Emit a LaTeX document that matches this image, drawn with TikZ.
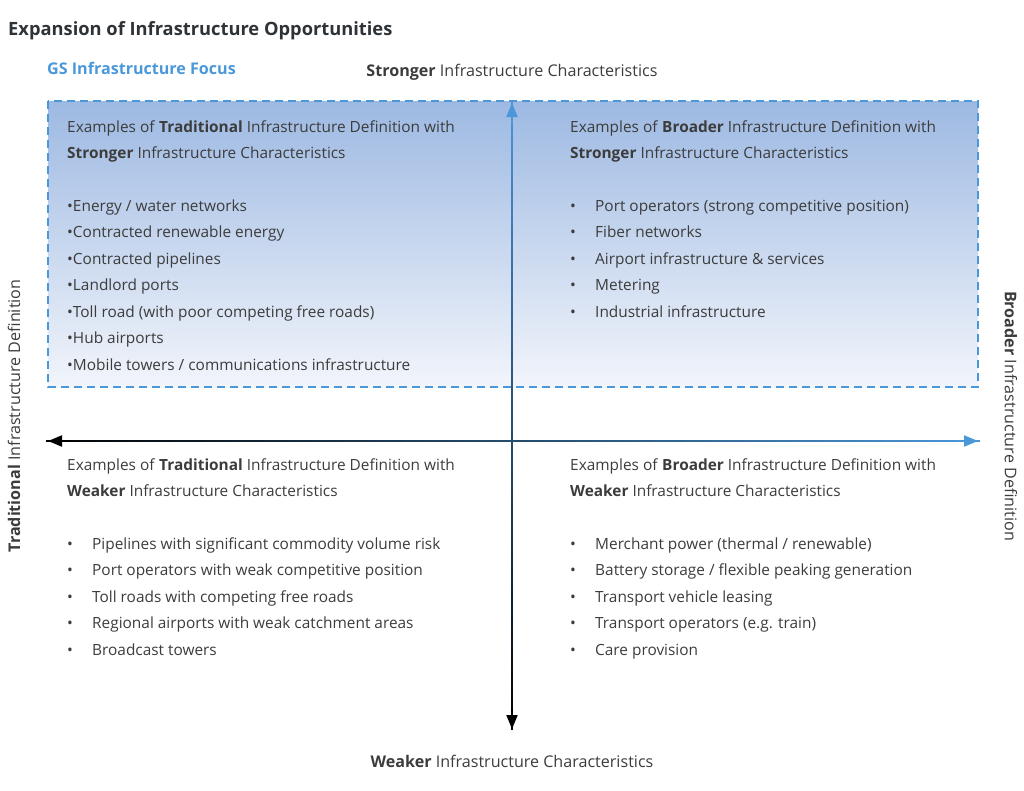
\documentclass[tikz,border=0pt]{standalone}
\usepackage{fontspec}
\setmainfont{Open Sans}
\usetikzlibrary{arrows.meta,calc}
\definecolor{axisblue}{HTML}{4A98DA}
\definecolor{txtgray}{HTML}{3C3C3C}
\definecolor{titlegray}{HTML}{2E3338}
\definecolor{boxtop}{HTML}{9DB9E2}
\definecolor{boxbot}{HTML}{F2F5FB}
\tikzset{
  txt/.style={anchor=base west, inner sep=0pt, text=txtgray, font=\fontsize{15.4}{18}\selectfont},
  axislabel/.style={inner sep=0pt, text=txtgray, font=\fontsize{16.1}{19}\selectfont},
  focusbox/.style={draw=axisblue, line width=2.2pt, dash pattern=on 8pt off 5pt},
  axisline/.style={line width=2pt},
}
\begin{document}
\begin{tikzpicture}[x=1pt,y=-1pt]
\useasboundingbox (0,0) rectangle (1024,790);
% focus box
\shade[top color=boxtop, bottom color=boxbot] (48,101) rectangle (978,387);
\draw[focusbox] (48,101) rectangle (978,387);
% titles
\node[anchor=base west, inner sep=0pt, text=titlegray, font=\fontsize{18.3}{21}\selectfont\bfseries] (title) at (8,35) {Expansion of Infrastructure Opportunities};
\node[anchor=base west, inner sep=0pt, text=axisblue, font=\fontsize{16.1}{19}\selectfont\bfseries] (focus) at (47,74) {GS Infrastructure Focus};
\node[axislabel, anchor=base] (strong) at (512,76) {\textbf{Stronger} Infrastructure Characteristics};
\node[axislabel, anchor=base] (weak) at (512,767) {\textbf{Weaker} Infrastructure Characteristics};
\node[axislabel, rotate=90] (trad) at (14,416) {\textbf{Traditional} Infrastructure Definition};
\node[axislabel, rotate=-90] (broad) at (1011,416) {\textbf{Broader} Infrastructure Definition};
% axes with gradient
\coordinate (c) at (512,441);
\coordinate (l) at (48,441);
\coordinate (r) at (978,441);
\coordinate (t) at (512,103);
\coordinate (b) at (512,729);
\foreach \i in {0,...,29}{
  \pgfmathsetmacro{\fa}{\i/30}
  \pgfmathsetmacro{\fb}{(\i+1)/30+0.005}
  \pgfmathsetmacro{\mixl}{50-50*\fa}
  \pgfmathsetmacro{\mixr}{50+50*\fa}
  \draw[axisline, color=axisblue!\mixl!black] ($(c)!\fa!(l)$) -- ($(c)!\fb!(l)$);
  \draw[axisline, color=axisblue!\mixr!black] ($(c)!\fa!(r)$) -- ($(c)!\fb!(r)$);
  \draw[axisline, color=axisblue!\mixr!black] ($(c)!\fa!(t)$) -- ($(c)!\fb!(t)$);
  \draw[axisline, color=axisblue!\mixl!black] ($(c)!\fa!(b)$) -- ($(c)!\fb!(b)$);
}
\draw[axisline, black, -{Triangle[length=14pt,width=11pt]}] (70,441) -- (l);
\draw[axisline, axisblue, -{Triangle[length=14pt,width=11pt]}] (956,441) -- (r);
\draw[axisline, axisblue, -{Triangle[length=14pt,width=11pt]}] (512,125) -- (t);
\draw[axisline, black, -{Triangle[length=14pt,width=11pt]}] (512,707) -- (b);
% TL
\node[txt] (tl1) at (67,132) {Examples of \textbf{Traditional} Infrastructure Definition with};
\node[txt] (tl2) at (67,158) {\textbf{Stronger} Infrastructure Characteristics};
\foreach \s [count=\k from 0] in {Energy / water networks, Contracted renewable energy, Contracted pipelines, Landlord ports, Toll road (with poor competing free roads), Hub airports, Mobile towers / communications infrastructure}{
  \node[txt] (tlb\k) at (67,211+26.5*\k) {•\s};
}
% TR
\node[txt] (tr1) at (570,132) {Examples of \textbf{Broader} Infrastructure Definition with};
\node[txt] (tr2) at (570,158) {\textbf{Stronger} Infrastructure Characteristics};
\foreach \s [count=\k from 0] in {Port operators (strong competitive position), Fiber networks, Airport infrastructure \& services, Metering, Industrial infrastructure}{
  \node[txt] (trd\k) at (570,211+26.5*\k) {•};
  \node[txt] (trb\k) at (595,211+26.5*\k) {\s};
}
% BL
\node[txt] (bl1) at (67,470) {Examples of \textbf{Traditional} Infrastructure Definition with};
\node[txt] (bl2) at (67,496) {\textbf{Weaker} Infrastructure Characteristics};
\foreach \s [count=\k from 0] in {Pipelines with significant commodity volume risk, Port operators with weak competitive position, Toll roads with competing free roads, Regional airports with weak catchment areas, Broadcast towers}{
  \node[txt] (bld\k) at (67,549+26.5*\k) {•};
  \node[txt] (blb\k) at (92,549+26.5*\k) {\s};
}
% BR
\node[txt] (br1) at (570,470) {Examples of \textbf{Broader} Infrastructure Definition with};
\node[txt] (br2) at (570,496) {\textbf{Weaker} Infrastructure Characteristics};
\foreach \s [count=\k from 0] in {Merchant power (thermal / renewable), Battery storage / flexible peaking generation, Transport vehicle leasing, Transport operators (e.g. train), Care provision}{
  \node[txt] (brd\k) at (570,549+26.5*\k) {•};
  \node[txt] (brb\k) at (595,549+26.5*\k) {\s};
}
\end{tikzpicture}
\end{document}
